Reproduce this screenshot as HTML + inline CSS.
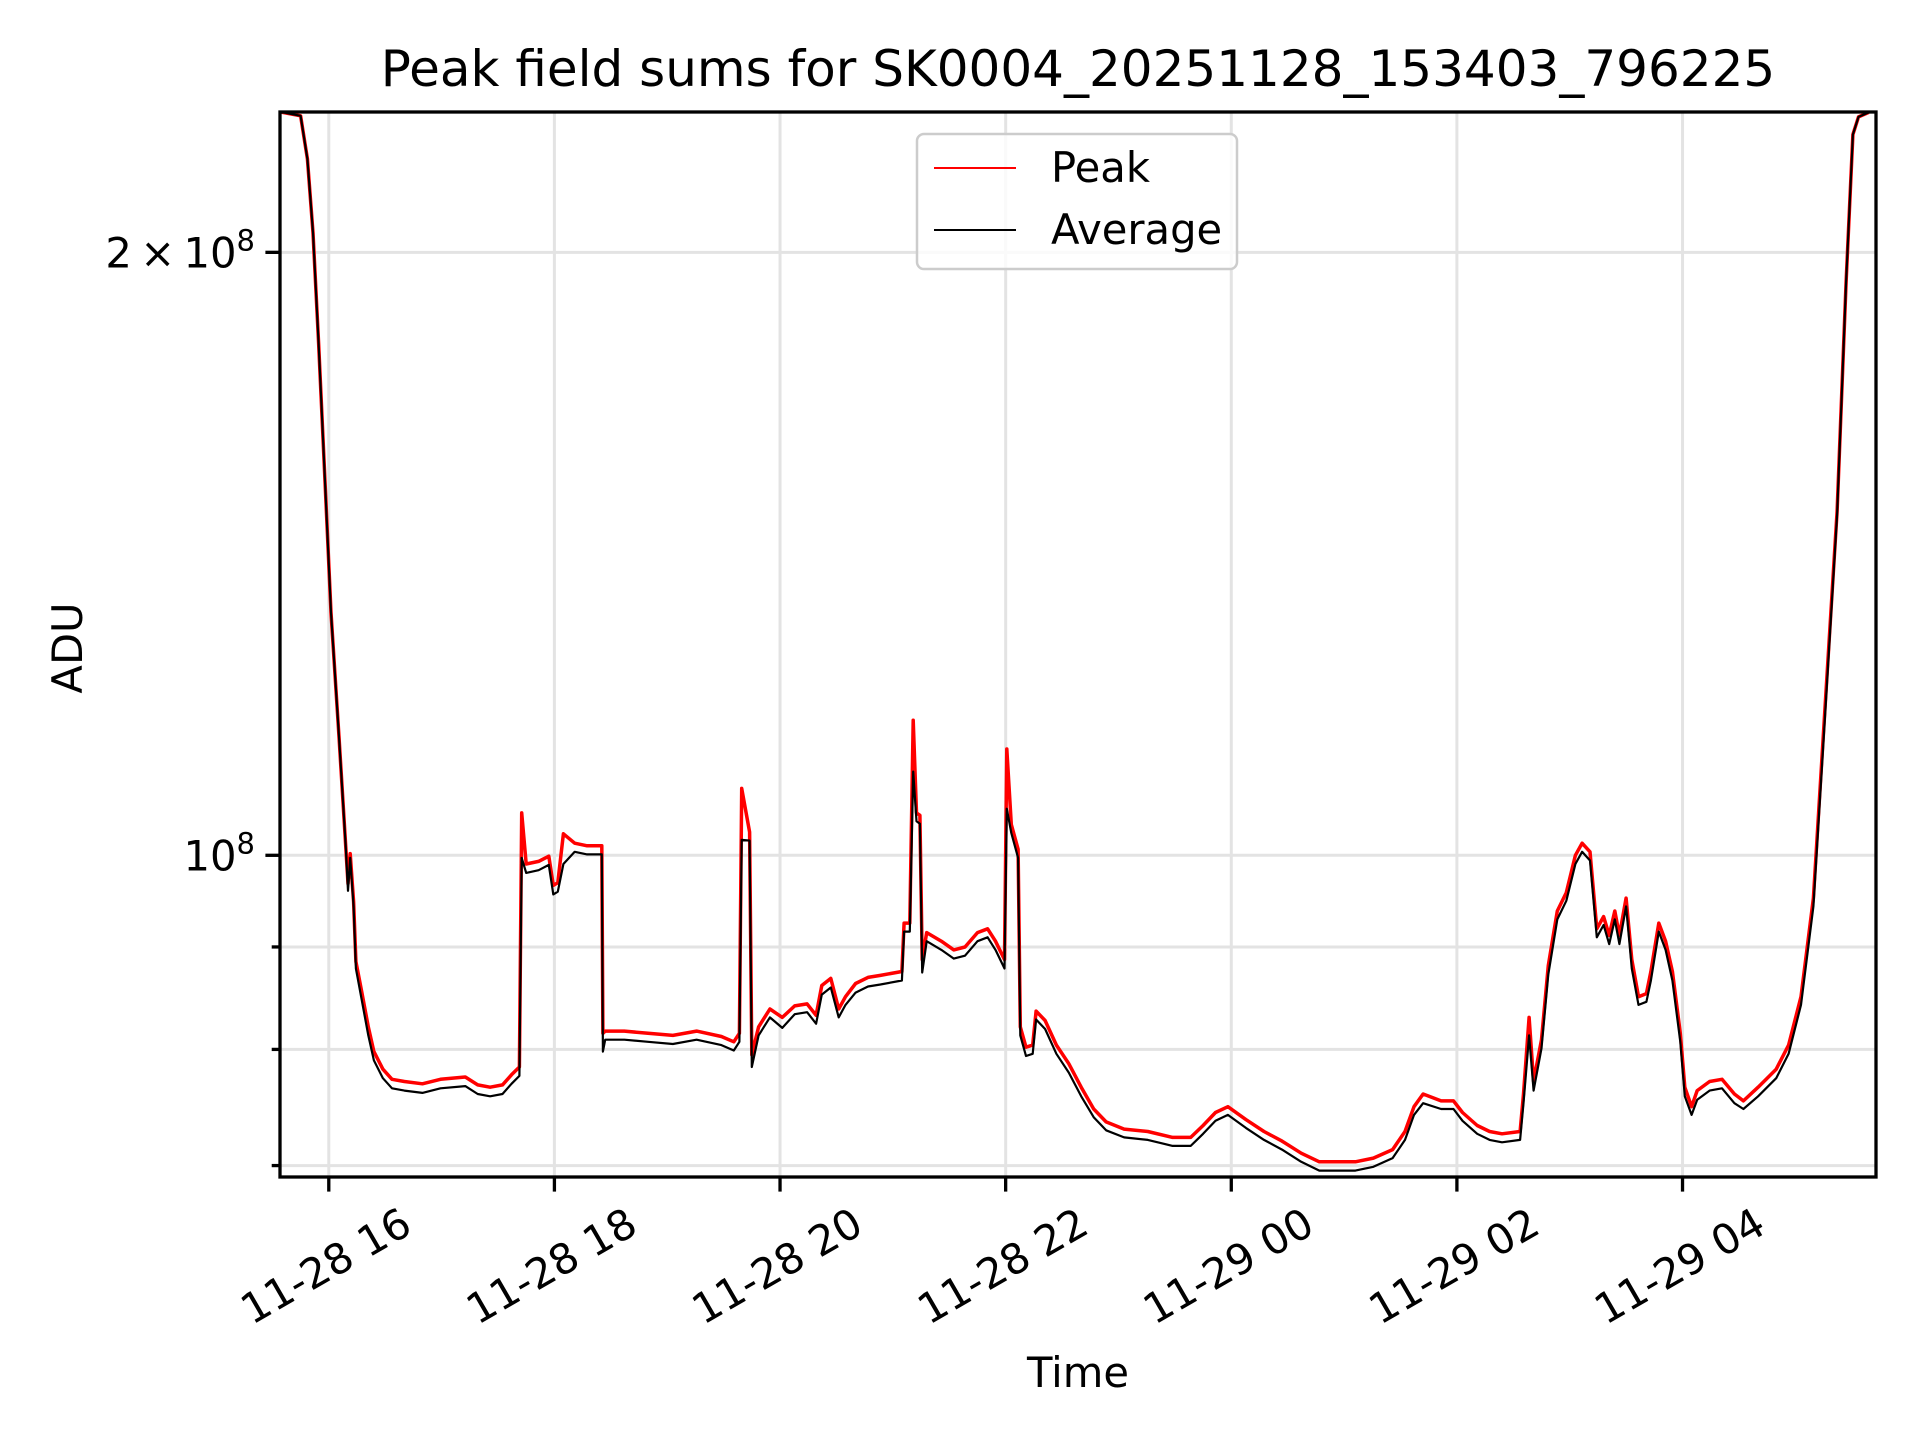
<!DOCTYPE html>
<html><head><meta charset="utf-8"><style>
html,body{margin:0;padding:0;background:#fff;}
svg{display:block;font-family:"DejaVu Sans","Liberation Sans",sans-serif;}
</style></head><body>
<svg id="chart" width="1920" height="1440" viewBox="0 0 1920 1440" xmlns="http://www.w3.org/2000/svg">
<rect width="1920" height="1440" fill="#fff"/>
<g id="grid"></g>
<g id="series"></g>
<g id="axes"></g>
<text x="1078" y="86" font-size="50" text-anchor="middle">Peak field sums for SK0004_20251128_153403_796225</text>
<text x="1078" y="1387" font-size="41.7" text-anchor="middle">Time</text>
<text x="0" y="0" font-size="41.7" text-anchor="middle" transform="translate(82,648) rotate(-90)">ADU</text>
<g>
<rect x="917" y="134" width="320" height="135" rx="7" fill="#fff" fill-opacity="0.8" stroke="#ccc" stroke-width="2.5"/>
<line x1="934" y1="168" x2="1016" y2="168" stroke="red" stroke-width="2"/>
<text x="1051" y="182" font-size="41.7">Peak</text>
<line x1="934" y1="230" x2="1016" y2="230" stroke="#000" stroke-width="2"/>
<text x="1051" y="244" font-size="41.7">Average</text>
</g>
</svg>
<script>
// hours since 2025-11-28 00:00
const times = [15.58,15.75,15.81,15.86,15.91,15.97,16.02,16.09,16.15,16.17,
16.19,16.22,16.24,16.29,16.35,16.40,16.48,16.56,16.67,16.83,
16.99,17.21,17.32,17.43,17.54,17.62,17.69,17.71,17.75,17.86,
17.95,17.99,18.03,18.08,18.18,18.29,18.42,18.43,18.45,18.62,
18.83,19.05,19.26,19.48,19.59,19.64,19.66,19.73,19.75,19.81,
19.91,20.02,20.13,20.24,20.32,20.37,20.45,20.52,20.58,20.67,
20.78,20.89,21.08,21.10,21.15,21.18,21.21,21.24,21.26,21.30,
21.43,21.54,21.64,21.75,21.84,21.91,21.99,22.01,22.05,22.11,
22.13,22.18,22.24,22.27,22.35,22.45,22.56,22.67,22.78,22.89,
23.05,23.26,23.48,23.64,23.75,23.86,23.97,24.13,24.29,24.45,
24.62,24.78,24.94,25.10,25.26,25.43,25.54,25.62,25.70,25.86,
25.97,26.05,26.18,26.29,26.40,26.56,26.59,26.64,26.68,26.75,
26.81,26.89,26.97,27.05,27.11,27.18,27.24,27.30,27.35,27.40,
27.44,27.50,27.55,27.61,27.68,27.72,27.79,27.85,27.91,27.98,
28.02,28.08,28.13,28.24,28.35,28.46,28.54,28.67,28.83,28.94,
29.05,29.16,29.26,29.37,29.45,29.51,29.56,29.65];
// values in millions of ADU
const averageValues = [235,234,222.7,204.6,180.2,152.2,132.2,114.8,101.1,96.0,
99.7,94.3,87.8,84.8,81.3,79.0,77.4,76.5,76.3,76.1,
76.5,76.7,76.0,75.8,76.0,76.9,77.6,99.7,98.0,98.3,
98.9,95.6,95.9,99.0,100.4,100.1,100.1,79.8,80.9,80.9,
80.7,80.5,80.9,80.4,79.9,80.7,101.8,101.7,78.4,81.3,
83.0,82.0,83.3,83.5,82.4,85.2,85.9,83.0,84.2,85.4,
86.0,86.2,86.6,91.6,91.6,110.1,104.0,103.7,87.4,90.6,
89.7,88.8,89.1,90.6,91.0,89.7,87.8,105.5,102.6,99.7,
81.3,79.4,79.6,82.8,81.9,79.6,77.9,75.8,74.0,72.9,
72.3,72.1,71.6,71.6,72.6,73.7,74.2,73.1,72.1,71.3,
70.3,69.6,69.6,69.6,69.9,70.6,72.1,74.2,75.2,74.7,
74.7,73.7,72.6,72.1,71.9,72.1,75.2,81.3,76.3,80.1,
87.2,92.9,94.9,99.0,100.4,99.4,91.0,92.3,90.3,92.9,
90.3,94.3,87.8,84.2,84.5,86.6,91.6,89.7,86.6,80.7,
75.8,74.2,75.5,76.3,76.5,75.2,74.7,75.8,77.4,79.6,
84.2,94.3,116.6,147.9,193.3,229,233.7,234.9];
const peakValues = [235,234,222.7,204.6,180.2,152.2,132.2,114.8,101.1,96.8,
100.2,94.8,88.5,85.6,82.1,79.8,78.2,77.3,77.1,76.9,
77.3,77.5,76.8,76.6,76.8,77.7,78.4,105,99,99.3,
99.9,96.6,96.9,102.5,101.4,101.1,101.1,81.5,81.7,81.7,
81.5,81.3,81.7,81.2,80.7,81.5,108,102.7,79.5,82.1,
83.8,83.0,84.1,84.3,83.2,86.1,86.8,83.8,85,86.3,
86.9,87.1,87.5,92.5,92.5,116.8,105,104.7,88.7,91.5,
90.6,89.7,90,91.5,91.9,90.6,88.7,113,103.6,100.7,
82.1,80.2,80.4,83.6,82.7,80.4,78.7,76.6,74.7,73.6,
73,72.8,72.3,72.3,73.3,74.4,74.9,73.8,72.8,72,
71,70.3,70.3,70.3,70.6,71.3,72.8,74.9,76,75.4,
75.4,74.4,73.3,72.8,72.6,72.8,76,83,77.1,80.9,
88.1,93.8,95.8,100,101.4,100.4,91.9,93.2,91.2,93.8,
91.2,95.2,88.7,85,85.3,87.5,92.5,90.6,87.5,81.5,
76.6,74.9,76.3,77.1,77.3,76,75.4,76.6,78.2,80.4,
85,95.2,117.8,148.5,193.3,229,233.7,234.9];
const xTickHours = [16,18,20,22,24,26,28];
const xTickLabels = ["11-28 16","11-28 18","11-28 20","11-28 22","11-29 00","11-29 02","11-29 04"];
const yMinorTicks = [90,80,70];

const NS = "http://www.w3.org/2000/svg";
const L = 280, R = 1876, T = 112, B = 1177;
const xMin = 15.5675, xMax = 29.715;
function xs(h){ return L + (h - xMin) / (xMax - xMin) * (R - L); }
function ys(v){ return 855.3 - 2003 * Math.log10(v / 100); }
function mk(tag, attrs, parent){
  const e = document.createElementNS(NS, tag);
  for (const k in attrs) e.setAttribute(k, attrs[k]);
  parent.appendChild(e); return e;
}
const grid = document.getElementById('grid');
const axes = document.getElementById('axes');
const series = document.getElementById('series');

xTickHours.forEach((h, i) => {
  const x = xs(h);
  const g = mk('line', {x1:x, y1:T, x2:x, y2:B, stroke:'#e3e3e3', 'stroke-width':3}, grid);
  
  
  const t = mk('line', {x1:x, y1:B, x2:x, y2:B+14.6, stroke:'#000', 'stroke-width':3.3}, axes);
  
  
  const lb = mk('text', {x:0, y:0, 'font-size':41.7, 'text-anchor':'middle', 'dominant-baseline':'central', transform:`translate(${x-3},1266) rotate(-30)`}, axes);
  lb.textContent = xTickLabels[i];
  
  
});

[200, 100].concat(yMinorTicks).forEach((v, i) => {
  const y = ys(v);
  const g = mk('line', {x1:L, y1:y, x2:R, y2:y, stroke:'#e3e3e3', 'stroke-width':3}, grid);
  
  
  const len = i < 2 ? 14.6 : 8.3;
  const t = mk('line', {x1:L-len, y1:y, x2:L, y2:y, stroke:'#000', 'stroke-width':3.3}, axes);
  
  
});

function label(y, main){
  const tx = mk('text', {x:L-25, y:y+15, 'font-size':41.7, 'text-anchor':'end'}, axes);
  
  
  const a = document.createElementNS(NS, 'tspan'); a.textContent = main; tx.appendChild(a);
  const b = document.createElementNS(NS, 'tspan'); b.setAttribute('font-size', 29); b.setAttribute('dy', -17); b.textContent = '8'; tx.appendChild(b);
}
label(ys(200), '2\u2009\u00d7\u200910');
label(ys(100), '10');

const clip = mk('clipPath', {id:'plotclip'}, series);
mk('rect', {x:L, y:T, width:R-L, height:B-T}, clip);
function path(vals){ return vals.map((v,i)=>(i?'L':'M')+xs(times[i]).toFixed(1)+','+ys(v).toFixed(1)).join(''); }
const pk = mk('path', {d:path(peakValues), fill:'none', stroke:'red', 'stroke-width':3.5, 'stroke-linejoin':'round', 'clip-path':'url(#plotclip)'}, series);


const av = mk('path', {d:path(averageValues), fill:'none', stroke:'#000', 'stroke-width':2.2, 'stroke-linejoin':'round', 'clip-path':'url(#plotclip)'}, series);



const frame = mk('rect', {x:L, y:T, width:R-L, height:B-T, fill:'none', stroke:'#000', 'stroke-width':3.3}, axes);


</script>
</body></html>
